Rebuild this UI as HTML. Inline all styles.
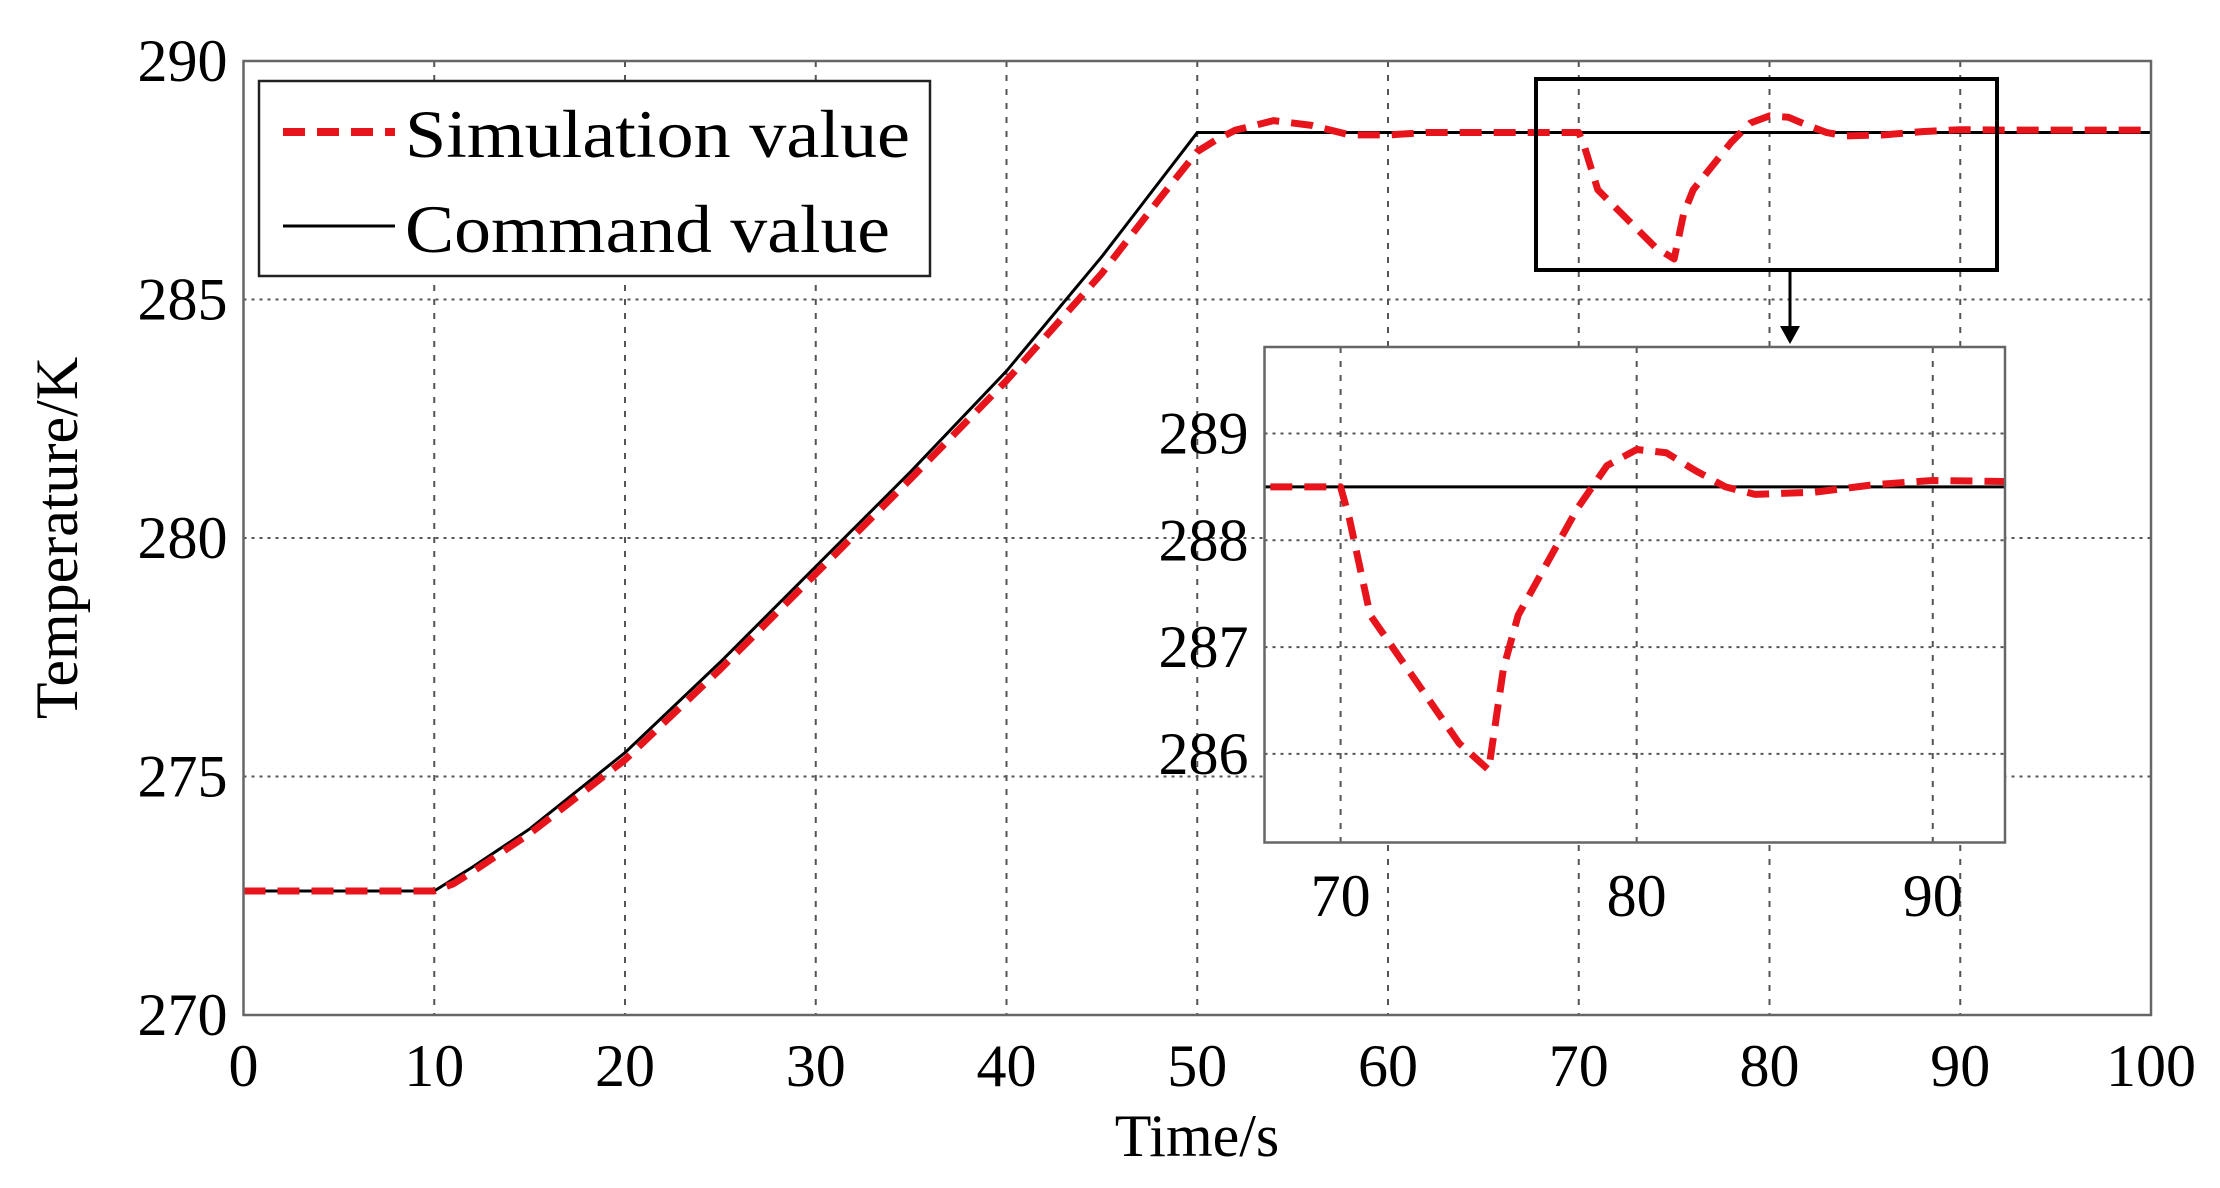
<!DOCTYPE html>
<html><head><meta charset="utf-8"><style>
html,body{margin:0;padding:0;background:#fff;overflow:hidden}
svg{display:block;font-family:"Liberation Serif",serif}
</style></head><body>
<svg id="chart" width="2220" height="1188" viewBox="0 0 2220 1188" xmlns="http://www.w3.org/2000/svg">
<g id="main"></g>
<g id="inset"></g>
<g id="legend">
<rect x="259" y="81" width="671" height="195" fill="#fff" stroke="#222" stroke-width="2.5"/>
<line x1="283" y1="132" x2="395" y2="132" stroke="#e8141b" stroke-width="8" stroke-dasharray="22 12"/>
<text x="405" y="157" font-size="68" textLength="505" lengthAdjust="spacingAndGlyphs">Simulation value</text>
<line x1="283" y1="226" x2="395" y2="226" stroke="#000" stroke-width="3"/>
<text x="405" y="252" font-size="68" textLength="485" lengthAdjust="spacingAndGlyphs">Command value</text>
</g>
<rect x="1536" y="79" width="461" height="191" fill="none" stroke="#000" stroke-width="4"/>
<line x1="1790" y1="270" x2="1790" y2="328" stroke="#000" stroke-width="3"/>
<polygon points="1780,326 1800,326 1790,344" fill="#000"/>
</svg>
<script>
const xTicks = [0,10,20,30,40,50,60,70,80,90,100];
const yTicks = [270,275,280,285,290];
const insetXTicks = [70,80,90];
const insetYTicks = [286,287,288,289];
const cmdT = [0,10,12,15,20,25,30,35,40,45,50,100];
const cmdV = [272.6,272.6,273.1,273.9,275.5,277.4,279.4,281.4,283.5,285.9,288.5,288.5];
const simT = [0,10,11,12,15,20,25,30,35,40,45,48,50,51,52,54,56,58,60,62,65,70,70.3,71,72,73,74,75,75.5,76,77,78,79,80,81,82,83,84,86,88,90,92.5,100];
const simV = [272.6,272.6,272.75,273.0,273.8,275.35,277.25,279.25,281.25,283.3,285.55,287.1,288.1,288.35,288.55,288.75,288.65,288.45,288.45,288.5,288.5,288.5,288.2,287.3,286.9,286.5,286.1,285.85,286.8,287.3,287.8,288.3,288.7,288.85,288.82,288.65,288.5,288.43,288.45,288.52,288.56,288.55,288.55];

const NS='http://www.w3.org/2000/svg';
function mk(tag, parent, attrs){const e=document.createElementNS(NS,tag);for(const k in attrs)e.setAttribute(k,attrs[k]);parent.appendChild(e);return e;}

function drawAxes(g, box, xd, yd, xt, yt, prefix, clipId, xLabelY){
  const sx=v=>box.x0+(v-xd[0])/(xd[1]-xd[0])*(box.x1-box.x0);
  const sy=v=>box.y1-(v-yd[0])/(yd[1]-yd[0])*(box.y1-box.y0);
  const bg=mk('rect',g,{x:box.x0,y:box.y0,width:box.x1-box.x0,height:box.y1-box.y0,fill:'#fff'});
  
  
  xt.forEach(v=>{
    const x=sx(v);
    if(v>xd[0]&&v<xd[1]){
      const l=mk('line',g,{x1:x,y1:box.y0,x2:x,y2:box.y1,stroke:'#555','stroke-width':2,'stroke-dasharray':'6 8'});
      
      
    }
    const t=mk('text',g,{x:x,y:xLabelY,'font-size':60,'text-anchor':'middle','dominant-baseline':'central'});
    t.textContent=v;
    
    
  });
  yt.forEach(v=>{
    const y=sy(v);
    if(v>yd[0]&&v<yd[1]){
      const l=mk('line',g,{x1:box.x0,y1:y,x2:box.x1,y2:y,stroke:'#555','stroke-width':2,'stroke-dasharray':'3 5'});
      
      
    }
    const t=mk('text',g,{x:box.x0-16,y:y,'font-size':60,'text-anchor':'end','dominant-baseline':'central'});
    t.textContent=v;
    
    
  });
  const cp=mk('clipPath',g,{id:clipId});
  mk('rect',cp,{x:box.x0,y:box.y0,width:box.x1-box.x0,height:box.y1-box.y0});
  const c=mk('polyline',g,{points:cmdT.map((t,i)=>sx(t)+','+sy(cmdV[i])).join(' '),fill:'none',stroke:'#000','stroke-width':3,'clip-path':'url(#'+clipId+')'});
  
  
  const s=mk('polyline',g,{points:simT.map((t,i)=>sx(t)+','+sy(simV[i])).join(' '),fill:'none',stroke:'#e8141b','stroke-width':7,'stroke-dasharray':'22 12','stroke-linejoin':'round','clip-path':'url(#'+clipId+')'});
  
  
  const fr=mk('rect',g,{x:box.x0,y:box.y0,width:box.x1-box.x0,height:box.y1-box.y0,fill:'none',stroke:'#666','stroke-width':2.5});
  
  
}
const main=document.getElementById('main');
drawAxes(main,{x0:243.5,x1:2151,y0:61,y1:1015},[0,100],[270,290],xTicks,yTicks,'main','clipMain',1066);
const xt=mk('text',main,{x:1197,y:1136,'font-size':60,'text-anchor':'middle','dominant-baseline':'central'});
xt.textContent='Time/s';


const yt=mk('text',main,{x:0,y:0,'font-size':60,'text-anchor':'middle','dominant-baseline':'central',transform:'translate(57,538) rotate(-90)'});
yt.textContent='Temperature/K';


const inset=document.getElementById('inset');
drawAxes(inset,{x0:1264.5,x1:2005,y0:347,y1:842.5},[67.43,92.44],[285.17,289.81],insetXTicks,insetYTicks,'inset','clipInset',896);
</script>
</body></html>
